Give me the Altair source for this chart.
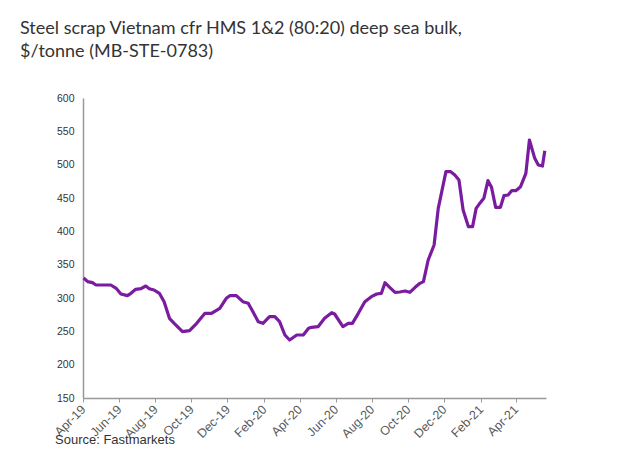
import altair as alt
import pandas as pd

dates = [
    "2019-04-02", "2019-04-09", "2019-04-17", "2019-04-23", "2019-05-18", "2019-05-27",
    "2019-06-04", "2019-06-15", "2019-06-21", "2019-06-29", "2019-07-08", "2019-07-16",
    "2019-07-22", "2019-07-30", "2019-08-08", "2019-08-16", "2019-08-25", "2019-09-02",
    "2019-09-16", "2019-09-28", "2019-10-10", "2019-10-24", "2019-11-04", "2019-11-18",
    "2019-11-29", "2019-12-05", "2019-12-16", "2019-12-27", "2020-01-05", "2020-01-13",
    "2020-01-22", "2020-01-30", "2020-02-10", "2020-02-19", "2020-02-27", "2020-03-07",
    "2020-03-15", "2020-03-27", "2020-04-07", "2020-04-16", "2020-04-21", "2020-05-02",
    "2020-05-13", "2020-05-25", "2020-05-30", "2020-06-13", "2020-06-22", "2020-06-29",
    "2020-07-09", "2020-07-20", "2020-07-31", "2020-08-09", "2020-08-17", "2020-08-23",
    "2020-08-31", "2020-09-09", "2020-09-17", "2020-09-26", "2020-10-04", "2020-10-13",
    "2020-10-21", "2020-10-27", "2020-11-04", "2020-11-14", "2020-11-21", "2020-12-04",
    "2020-12-12", "2020-12-19", "2020-12-26", "2021-01-02", "2021-01-11", "2021-01-18",
    "2021-01-24", "2021-01-31", "2021-02-06", "2021-02-13", "2021-02-19", "2021-02-26",
    "2021-03-06", "2021-03-12", "2021-03-19", "2021-03-25", "2021-04-01", "2021-04-09",
    "2021-04-18", "2021-04-24", "2021-05-03", "2021-05-09", "2021-05-16", "2021-05-20",
]
prices = [
    330, 324.5, 323, 319.5, 319.5, 314.5,
    306, 303.5, 307, 313, 314, 318,
    314, 312, 307, 294.5, 269.5, 262,
    249.5, 251, 262, 277, 277, 284.5,
    299.5, 303.5, 303.5, 294.5, 292, 279.5,
    264.5, 262, 272, 272, 264.5, 244.5,
    237, 244.5, 244.5, 254.5, 256, 257,
    269.5, 278, 276, 257, 262, 262,
    277, 294.5, 302, 306, 307, 323,
    316, 308.5, 309, 310.5, 308.5, 316,
    322, 324.5, 357, 379.5, 434.5, 489.5,
    489.5, 484.5, 477, 432, 407, 407,
    434.5, 443, 449.5, 476, 466, 436,
    436, 453.5, 454.5, 461, 461, 467,
    487, 537, 509.5, 499.5, 498, 521,
]
y_ticks = [150, 200, 250, 300, 350, 400, 450, 500, 550, 600]
tick_months = [
    (2019, 4), (2019, 6), (2019, 8), (2019, 10), (2019, 12),
    (2020, 2), (2020, 4), (2020, 6), (2020, 8), (2020, 10), (2020, 12),
    (2021, 2), (2021, 4),
]
title_lines = ["Steel scrap Vietnam cfr HMS 1&2 (80:20) deep sea bulk,",
               "$/tonne (MB-STE-0783)"]
source_text = ["Source: Fastmarkets"]

df = pd.DataFrame({"date": dates, "price": prices})

x_values = [alt.DateTime(year=y, month=m, date=1, utc=True) for y, m in tick_months]

line = alt.Chart(df).mark_line(color="#7a1ca0", strokeWidth=3.2, strokeJoin="round").encode(
    x=alt.X(
        "date:T",
        scale=alt.Scale(
            type="utc",
            domain=[alt.DateTime(year=2019, month=4, date=1, utc=True),
                    alt.DateTime(year=2021, month=5, date=22, utc=True)],
        ),
        axis=alt.Axis(
            values=x_values, format="%b-%y", labelAngle=-45, labelAlign="right",
            labelBaseline="middle", labelFont="Liberation Sans", labelFontSize=12.5,
            labelColor="#595959", labelPadding=5, labelOverlap=False, labelFlush=False,
            tickSize=4, tickColor="#999999",
            domainColor="#999999", domainWidth=1.5, grid=False, title=None,
        ),
    ),
    y=alt.Y(
        "price:Q",
        scale=alt.Scale(domain=[150, 600], nice=False, zero=False),
        axis=alt.Axis(
            values=y_ticks, labelFont="Liberation Sans", labelFontSize=10.5,
            labelColor="#333333", ticks=False, labelPadding=9,
            domainColor="#999999", domainWidth=1.5, grid=False, title=None,
        ),
    ),
)

source = alt.Chart(pd.DataFrame({"t": source_text})).mark_text(
    align="left", baseline="alphabetic", font="Liberation Sans", fontSize=13, color="#333333"
).encode(text="t:N", x=alt.value(-28), y=alt.value(346))

chart = alt.layer(line, source).properties(
    width=463,
    height=300,
    padding={"left": 75, "top": 90, "right": 86, "bottom": 54},
    autosize=alt.AutoSizeParams(type="none"),
    title=alt.TitleParams(
        text=title_lines, anchor="start", frame="group", dx=-63, offset=32,
        font="Lato", fontSize=18, fontWeight="normal", color="#333333", lineHeight=23,
    ),
).configure_view(stroke=None)

chart.save("out.html", embed_options={"renderer": "svg", "actions": False})
